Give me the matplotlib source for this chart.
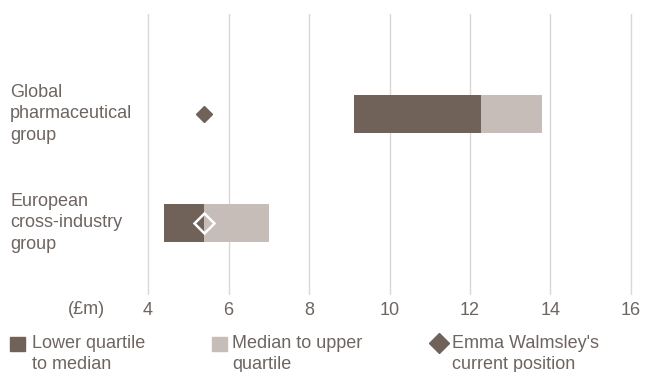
import matplotlib.pyplot as plt
from matplotlib.patches import Rectangle
from matplotlib.lines import Line2D
from matplotlib.transforms import blended_transform_factory

plt.rcParams['font.family'] = ['Liberation Sans', 'DejaVu Sans']

# datos
groups = ["Global\npharmaceutical\ngroup", "European\ncross-industry\ngroup"]
lower_q = [9.12, 4.40]
median = [12.28, 5.40]
upper_q = [13.80, 7.00]
current = [5.38, 5.40]
ticks = [4, 6, 8, 10, 12, 14, 16]
legend_labels = ["Lower quartile\nto median", "Median to upper\nquartile",
                 "Emma Walmsley's\ncurrent position"]

DARK = "#706259"
LIGHT = "#c6bdb9"
TEXT = "#6e6560"
GRID = "#dcd7d5"
FS = 13

W, H = 646, 372
fig = plt.figure(figsize=(W / 100, H / 100), dpi=100)
ax = fig.add_axes([146 / W, 77 / H, 487 / W, 281 / H])

ypos = [1, 0]
h = 0.35
for y, lo, md, up in zip(ypos, lower_q, median, upper_q):
    ax.barh(y, md - lo, left=lo, height=h, color=DARK, zorder=2)
    ax.barh(y, up - md, left=md, height=h, color=LIGHT, zorder=2)

# marcadores de posición actual
ax.plot(current[0], ypos[0], marker="D", markersize=8, color=DARK,
        linestyle="none", zorder=3)
ax.plot(current[1], ypos[1], marker="D", markersize=10, markerfacecolor="none",
        markeredgecolor="white", markeredgewidth=1.8, linestyle="none", zorder=3)

for t in ticks:
    ax.axvline(t, color=GRID, linewidth=1.0, zorder=1)

ax.set_xlim(3.95, 16.05)
ax.set_ylim(-0.661, 1.917)
ax.set_xticks(ticks)
ax.set_xticklabels([str(t) for t in ticks], fontsize=FS, color=TEXT)
ax.tick_params(axis="x", length=0, pad=5)
ax.set_yticks([])
for s in ax.spines.values():
    s.set_visible(False)

# etiquetas de grupo a la izquierda
trans = blended_transform_factory(fig.transFigure, ax.transData)
for y, g in zip(ypos, groups):
    fig.text(10 / W, y, g, transform=trans, fontsize=FS, color=TEXT,
             ha="left", va="center", linespacing=1.33)

fig.text(105 / W, 62 / H, "(£m)", fontsize=FS, color=TEXT, ha="right", va="center")

# leyenda manual
fig.add_artist(Rectangle((10 / W, (H - 351) / H), 15 / W, 14 / H,
                         transform=fig.transFigure, color=DARK))
fig.add_artist(Rectangle((212 / W, (H - 351) / H), 15 / W, 14 / H,
                         transform=fig.transFigure, color=LIGHT))
fig.add_artist(Line2D([439 / W], [(H - 342.5) / H], marker="D", markersize=10.5,
                      color=DARK, transform=fig.transFigure))
legend_x = [32, 232, 452]
for x, lab in zip(legend_x, legend_labels):
    fig.text(x / W, (H - 335) / H, lab, fontsize=FS, color=TEXT,
             ha="left", va="top", linespacing=1.27)

fig.savefig("out.png", dpi=100)
